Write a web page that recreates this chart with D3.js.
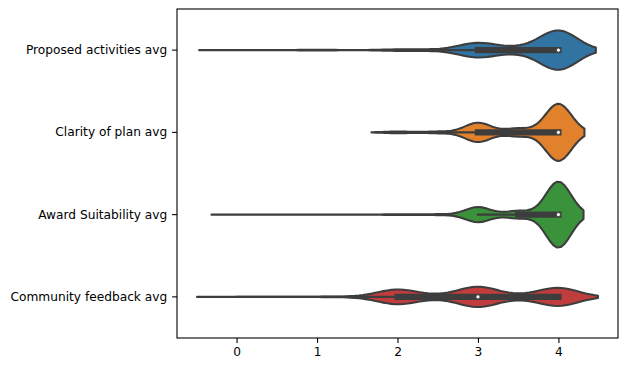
<!DOCTYPE html>
<html>
<head>
    <script src="https://d3js.org/d3.v7.min.js"></script>
    <style>
        body { margin: 0; background: #fff; }
        svg { display: block; font-family: "DejaVu Sans", sans-serif; }
    </style>
</head>
<body>
    <div id="chart"></div>
    <script>
        // categories (top to bottom) and their colours
        const categories = ["Proposed activities avg", "Clarity of plan avg", "Award Suitability avg", "Community feedback avg"];
        const colors = ["#3274a1", "#e1812c", "#3a923a", "#c03d3e"];

        // score values that occur, and how many responses had each one
        const scores = [0, 1, 1.5, 2, 2.5, 3, 3.5, 4];
        const proposedCounts = [1, 2, 0, 4, 3, 40, 12, 110];
        const clarityCounts = [0, 0, 0, 6, 6, 66, 27, 195];
        const awardCounts = [1, 0, 0, 3, 3, 50, 25, 218];
        const communityCounts = [1, 2, 4, 95, 15, 130, 15, 118];
        const allCounts = [proposedCounts, clarityCounts, awardCounts, communityCounts];

        const xTicks = [0, 1, 2, 3, 4];

        const width = 627, height = 369;
        const margin = { top: 9, right: 9, bottom: 31, left: 177 };
        const gray = "#3d3d3d";
        const fontSize = 12.2;

        // same steps seaborn goes through: gaussian kde (scott), cut=2, gridsize=100
        function percentile(data, q) {
            const pos = (data.length - 1) * q;
            const lo = Math.floor(pos), hi = Math.ceil(pos);
            return data[lo] + (data[hi] - data[lo]) * (pos - lo);
        }

        const stats = allCounts.map(counts => {
            const data = [];
            counts.forEach((c, i) => { for (let k = 0; k < c; k++) data.push(scores[i]); });
            data.sort((a, b) => a - b);
            const n = data.length;
            const sd = d3.deviation(data);
            const bw = Math.pow(n, -0.2) * sd;
            const lo = data[0] - 2 * bw, hi = data[n - 1] + 2 * bw;
            const grid = d3.range(100).map(i => lo + (hi - lo) * i / 99);
            const dens = grid.map(v => {
                let s = 0;
                counts.forEach((c, i) => {
                    const z = (v - scores[i]) / bw;
                    s += c * Math.exp(-0.5 * z * z);
                });
                return { v: v, d: s / (n * bw * Math.sqrt(2 * Math.PI)) };
            });
            const q1 = percentile(data, 0.25), med = percentile(data, 0.5), q3 = percentile(data, 0.75);
            const lim = 1.5 * (q3 - q1);
            const h1 = d3.min(data.filter(v => v >= q1 - lim));
            const h2 = d3.max(data.filter(v => v <= q3 + lim));
            return { dens, lo, hi, q1, med, q3, h1, h2 };
        });

        const maxDens = d3.max(stats, s => d3.max(s.dens, p => p.d));
        const dataLo = d3.min(stats, s => s.lo), dataHi = d3.max(stats, s => s.hi);
        const pad = (dataHi - dataLo) * 0.05;

        const x = d3.scaleLinear()
            .domain([dataLo - pad, dataHi + pad])
            .range([margin.left, width - margin.right]);
        const y = d3.scaleBand()
            .domain(categories)
            .range([margin.top, height - margin.bottom])
            .padding(0);
        const half = d3.scaleLinear().domain([0, maxDens]).range([0, y.bandwidth() * 0.4]);

        const svg = d3.select("#chart").append("svg")
            .attr("width", width)
            .attr("height", height);

        stats.forEach((s, i) => {
            const cy = y(categories[i]) + y.bandwidth() / 2;
            const area = d3.area()
                .x(p => x(p.v))
                .y0(p => cy - half(p.d))
                .y1(p => cy + half(p.d));
            svg.append("path")
                .datum(s.dens)
                .attr("d", area)
                .attr("fill", colors[i])
                .attr("stroke", gray)
                .attr("stroke-width", 2.08)
                .attr("stroke-linejoin", "round");

            svg.append("line")
                .attr("x1", x(s.h1)).attr("x2", x(s.h2))
                .attr("y1", cy).attr("y2", cy)
                .attr("stroke", gray)
                .attr("stroke-width", 2.08)
                .attr("stroke-linecap", "square");
            svg.append("line")
                .attr("x1", x(s.q1)).attr("x2", x(s.q3))
                .attr("y1", cy).attr("y2", cy)
                .attr("stroke", gray)
                .attr("stroke-width", 6.25)
                .attr("stroke-linecap", "square");
            svg.append("circle")
                .attr("cx", x(s.med)).attr("cy", cy)
                .attr("r", 2.1)
                .attr("fill", "#fff")
                .attr("stroke", gray)
                .attr("stroke-width", 1.0);
        });

        // axes
        const xAxis = svg.append("g")
            .attr("transform", "translate(0," + (height - margin.bottom) + ")")
            .call(d3.axisBottom(x).tickValues(xTicks).tickFormat(d3.format("d")).tickSize(4.9).tickPadding(4.4));
        const yAxis = svg.append("g")
            .attr("transform", "translate(" + margin.left + ",0)")
            .call(d3.axisLeft(y).tickSize(4.9).tickPadding(4.9));
        [xAxis, yAxis].forEach(g => {
            g.select(".domain").remove();
            g.selectAll(".tick line").attr("stroke", "#000").attr("stroke-width", 1.1);
            g.selectAll("text").attr("fill", "#000").style("font-size", fontSize + "px")
                .style("font-family", "'DejaVu Sans', sans-serif");
        });

        svg.append("rect")
            .attr("x", margin.left)
            .attr("y", margin.top)
            .attr("width", width - margin.left - margin.right)
            .attr("height", height - margin.top - margin.bottom)
            .attr("fill", "none")
            .attr("stroke", "#000")
            .attr("stroke-width", 1.1);
    </script>
</body>
</html>
